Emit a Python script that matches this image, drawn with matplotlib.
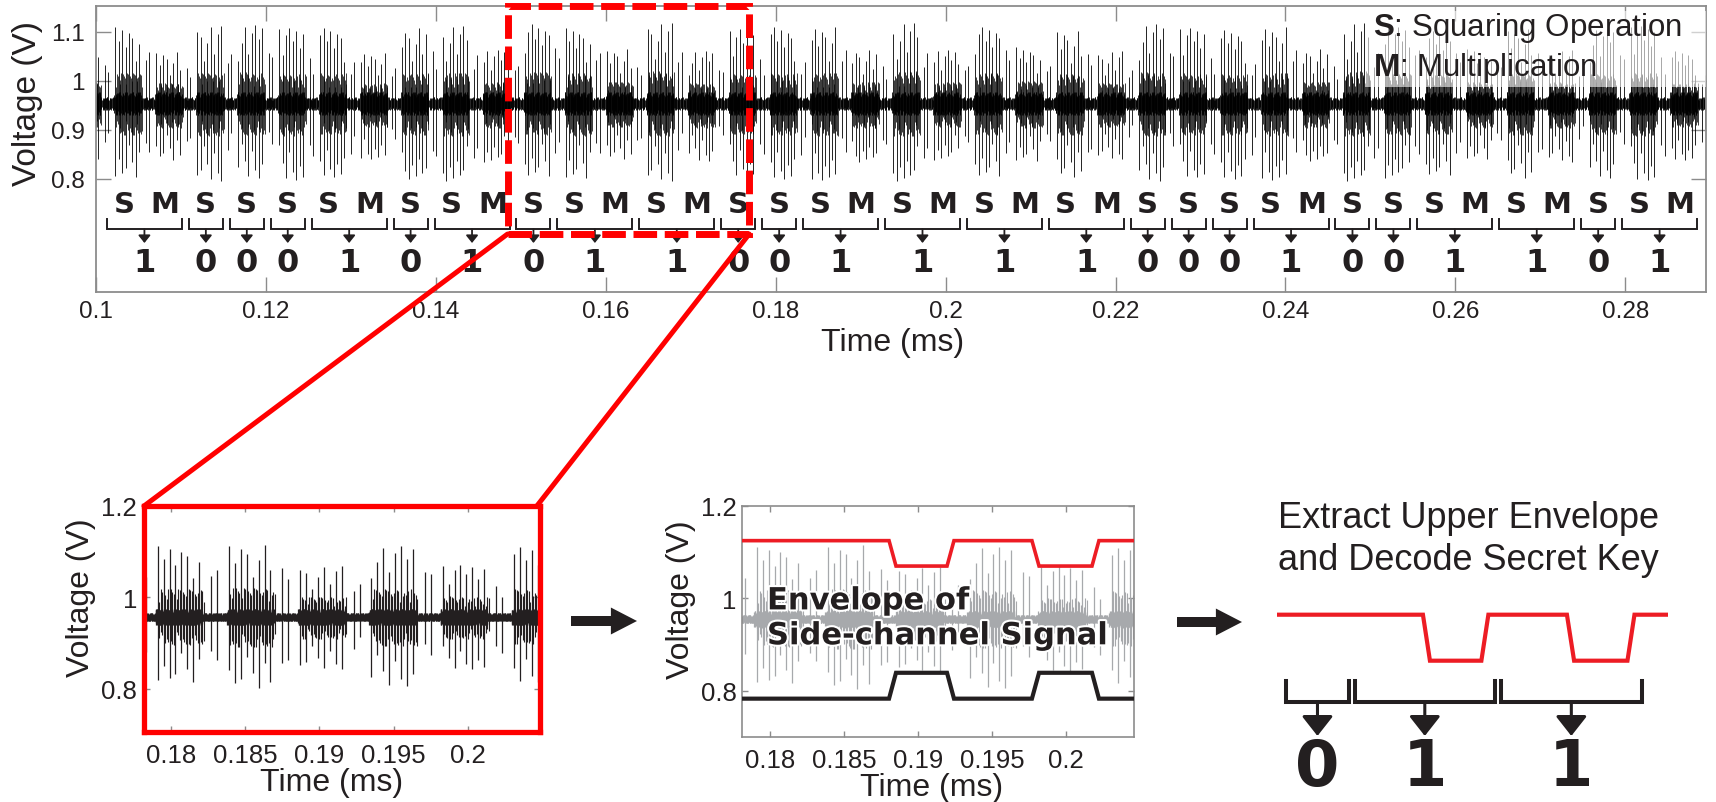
import numpy as np
import matplotlib
matplotlib.use("Agg")
import matplotlib.pyplot as plt
from matplotlib.patches import Rectangle, ConnectionPatch, FancyArrowPatch
import matplotlib.patheffects as pe

plt.rcParams['font.family'] = ['Liberation Sans', 'DejaVu Sans']
plt.rcParams['mathtext.fontset'] = 'custom'
plt.rcParams['mathtext.rm'] = 'Liberation Sans'
plt.rcParams['mathtext.bf'] = 'Liberation Sans:bold'

# ------------------------------------------------------------------ data
key_bits = [1, 0, 0, 0, 1, 0, 1, 0, 1, 1, 0, 0, 1, 1, 1, 1, 0, 0, 0, 1, 0, 0, 1, 1, 0, 1]
op_unit = 0.00482          # ms per S or M operation (top trace)
trace_start = 0.10088      # ms, start of first labelled operation
# per-operation peak / trough voltages (lead op + 39 labelled ops + trailing op)
top_peaks = [1.065, 1.110, 1.060, 1.112, 1.113, 1.108, 1.108, 1.058, 1.110, 1.112,
             1.062, 1.115, 1.108, 1.066, 1.118, 1.060, 1.105, 1.110, 1.112, 1.065,
             1.118, 1.062, 1.110, 1.068, 1.105, 1.060, 1.115, 1.108, 1.103, 1.112,
             1.066, 1.118, 1.110, 1.102, 1.064, 1.108, 1.062, 1.106, 1.112, 1.060, 1.110]
top_troughs = [0.838, 0.800, 0.836, 0.796, 0.802, 0.798, 0.804, 0.840, 0.800, 0.795,
               0.834, 0.802, 0.798, 0.838, 0.796, 0.836, 0.804, 0.800, 0.797, 0.835,
               0.795, 0.838, 0.802, 0.834, 0.800, 0.840, 0.796, 0.803, 0.800, 0.798,
               0.836, 0.795, 0.801, 0.804, 0.837, 0.799, 0.835, 0.802, 0.797, 0.838, 0.800]
top_xticks = [0.10, 0.12, 0.14, 0.16, 0.18, 0.20, 0.22, 0.24, 0.26, 0.28]
top_xticklabels = ['0.1', '0.12', '0.14', '0.16', '0.18', '0.2', '0.22', '0.24', '0.26', '0.28']
top_yticks = [0.8, 0.9, 1.0, 1.1]
top_yticklabels = ['0.8', '0.9', '1', '1.1']

zoom_ops = ['S', 'S', 'S', 'M', 'S', 'M', 'S']
zoom_start = 0.1739
zoom_unit = 0.0048
zoom_peaks = [1.110, 1.112, 1.118, 1.069, 1.112, 1.071, 1.110]
zoom_troughs = [0.810, 0.813, 0.800, 0.843, 0.806, 0.843, 0.815]
zoom_xticks = [0.18, 0.185, 0.19, 0.195, 0.20]
zoom_xticklabels = ['0.18', '0.185', '0.19', '0.195', '0.2']
zoom_yticks = [0.8, 1.0, 1.2]
zoom_yticklabels = ['0.8', '1', '1.2']

env_t = [0.1781, 0.18804, 0.18851, 0.19196, 0.19243, 0.19770, 0.19818, 0.20176, 0.20223, 0.2046]
env_upper = [1.125, 1.125, 1.070, 1.070, 1.125, 1.125, 1.070, 1.070, 1.125, 1.125]
env_lower = [0.783, 0.783, 0.839, 0.839, 0.783, 0.783, 0.839, 0.839, 0.783, 0.783]

decoded_bits = [0, 1, 1]
decoded_edges = [0.17865, 0.18328, 0.19305, 0.20294]

# relative spike heights inside one burst
spike_pattern = [0.64, 0.90, 1.0, 0.82, 0.96, 0.74, 0.92, 0.86, 0.55, 0.78, 0.98]

# ------------------------------------------------------------------ helpers
INK = '#231f20'
RED = '#ff0000'
ENV_RED = '#ed1c24'
SPINE = '#8c8c8c'
W, H = 1716, 803


def rect(l, t, r, b):
    return [l / W, 1 - b / H, (r - l) / W, (b - t) / H]


def fp(x, y):
    return (x / W, 1 - y / H)


def draw_trace(ax, ops, start, unit, peaks, troughs, base, offset, color, lw,
               hw_in, hw_out, band_step, spk_dt=0.0004, n_spk=8):
    tall_t, tall_lo, tall_hi = [], [], []
    mid_t, mid_lo, mid_hi = [], [], []
    bursts = []
    npat = len(spike_pattern)
    for k, op in enumerate(ops):
        t0 = start + k * unit + offset
        up = peaks[k] - base
        dn = base - troughs[k]
        for i in range(n_spk):
            x = t0 + i * spk_dt
            tall_t.append(x)
            tall_hi.append(base + up * spike_pattern[(i + 2 * k) % npat])
            tall_lo.append(base - dn * spike_pattern[(i + k + 3) % npat])
            for j in (1, 2, 3):
                mid_t.append(x + j * spk_dt / 4)
                mid_hi.append(base + 0.40 * up * spike_pattern[(i + 2 * j + k + 5) % npat])
                mid_lo.append(base - 0.42 * dn * spike_pattern[(i + 3 * j + k + 1) % npat])
        last = t0 + (n_spk - 1) * spk_dt
        for i in (2, 3):
            x = last + i * spk_dt
            tall_t.append(x)
            tall_hi.append(base + 0.7 * up * spike_pattern[(i + k) % npat])
            tall_lo.append(base - 0.7 * dn * spike_pattern[(i + k + 2) % npat])
        bursts.append((t0 - spk_dt * 0.4, last + spk_dt * 0.6))
    x0, x1 = ax.get_xlim()
    tg = np.arange(x0, x1, band_step)
    inb = np.zeros_like(tg, dtype=bool)
    for a, b in bursts:
        inb |= (tg >= a) & (tg <= b)
    hw = np.where(inb, hw_in, hw_out)
    idx = np.arange(len(tg))
    pat = np.array(spike_pattern)
    band_hi = 0.953 * 0 + base + hw * pat[(idx * 3) % npat]
    band_lo = base - hw * pat[(idx * 5 + 2) % npat]
    ax.vlines(tg, band_lo, band_hi, color=color, lw=lw, zorder=2)
    ax.vlines(mid_t, mid_lo, mid_hi, color=color, lw=lw * 0.9, zorder=2)
    ax.vlines(tall_t, tall_lo, tall_hi, color=color, lw=lw, zorder=2)


fig = plt.figure(figsize=(W / 100, H / 100), dpi=100)

# ------------------------------------------------------------------ top panel
ax = fig.add_axes(rect(96, 7, 1706, 293))
ax.set_xlim(0.1, 0.2895)
ax.set_ylim(0.5688, 1.1524)

top_ops, groups = [], []
u = 0
for b in key_bits:
    n = 2 if b else 1
    groups.append((u, n, b))
    top_ops += ['S', 'M'] if b else ['S']
    u += n
sig_ops = ['M'] + top_ops + ['S']
draw_trace(ax, sig_ops, trace_start - op_unit, op_unit, top_peaks, top_troughs,
           0.953, 0.0014, 'black', 0.6, 0.024, 0.013, 0.00007)

ax.set_xticks(top_xticks, labels=top_xticklabels)
ax.set_yticks(top_yticks, labels=top_yticklabels)
ax.tick_params(direction='in', length=11, width=1, color=SPINE, top=True, right=True,
               labelsize=17.5, labelcolor=INK)
ax.tick_params(axis='x', pad=6)
ax.tick_params(axis='y', pad=8)
for s in ax.spines.values():
    s.set_color(SPINE)
    s.set_linewidth(1.3)

half_gap = 0.00041
for (u0, n, b) in groups:
    a = trace_start + u0 * op_unit + half_gap
    e = trace_start + (u0 + n) * op_unit - half_gap
    ax.plot([a, a, e, e], [0.7178, 0.6973, 0.6973, 0.7178], color=INK, lw=1.4,
            solid_joinstyle='miter', zorder=3)
    for j, lab in enumerate(['S', 'M'][:n]):
        cx = trace_start + (u0 + j + 0.5) * op_unit
        ax.text(cx, 0.748, lab, ha='center', va='center', fontsize=21,
                fontfamily='DejaVu Sans', fontweight='bold', color=INK, zorder=3)
    mid = (a + e) / 2
    ax.annotate('', xy=(mid, 0.6688), xytext=(mid, 0.6973),
                arrowprops=dict(arrowstyle='-|>,head_length=0.45,head_width=0.36',
                                mutation_scale=10, lw=1.3, color=INK,
                                shrinkA=0, shrinkB=0), zorder=3)
    ax.text(mid, 0.629, str(b), ha='center', va='center', fontsize=23,
            fontfamily='DejaVu Sans', fontweight='bold', color=INK, zorder=3)

ax.add_patch(Rectangle((0.788, 0.717), 0.212, 0.266, transform=ax.transAxes,
                       facecolor='white', alpha=0.6, edgecolor='none', zorder=3))
ax.text(0.7932, 0.9266, r'$\mathbf{S}$: Squaring Operation', transform=ax.transAxes,
        ha='left', va='center', fontsize=22.5, color=INK, zorder=4)
ax.text(0.7932, 0.7867, r'$\mathbf{M}$: Multiplication', transform=ax.transAxes,
        ha='left', va='center', fontsize=22.5, color=INK, zorder=4)

box_t0, box_t1, box_v0, box_v1 = 0.14844, 0.17688, 0.6871, 1.1514
ax.add_patch(Rectangle((box_t0, box_v0), box_t1 - box_t0, box_v1 - box_v0, fill=False,
                       edgecolor=RED, lw=5, ls=(0, (3.4, 1.1)), clip_on=False, zorder=10))

fig.text(*fp(27.5, 104), 'Voltage (V)', rotation=90, ha='center', va='center',
         fontsize=24, color=INK)
fig.text(*fp(893, 343), 'Time (ms)', ha='center', va='center', fontsize=23, color=INK)

# ------------------------------------------------------------------ bottom-left zoom
axL = fig.add_axes(rect(144, 507, 540, 733))
axL.set_xlim(0.17818, 0.20486)
axL.set_ylim(0.706, 1.2)
draw_trace(axL, zoom_ops, zoom_start, zoom_unit, zoom_peaks, zoom_troughs,
           0.957, 0.0004, INK, 0.9, 0.018, 0.009, 0.00003)
axL.set_xticks(zoom_xticks, labels=zoom_xticklabels)
axL.set_yticks(zoom_yticks, labels=zoom_yticklabels)
axL.tick_params(direction='in', length=4, width=1, color=SPINE, top=True, right=True,
                labelsize=18.5, labelcolor=INK)
axL.tick_params(axis='x', pad=8)
axL.tick_params(axis='y', pad=5)
for s in axL.spines.values():
    s.set_color(RED)
    s.set_linewidth(3.8)
    s.set_zorder(5)
fig.text(*fp(81, 598), 'Voltage (V)', rotation=90, ha='center', va='center',
         fontsize=23, color=INK)
fig.text(*fp(332, 783), 'Time (ms)', ha='center', va='center', fontsize=23, color=INK)

# ------------------------------------------------------------------ middle envelope panel
axM = fig.add_axes(rect(742, 507, 1134, 738))
axM.set_xlim(0.1781, 0.2046)
axM.set_ylim(0.70, 1.2)
draw_trace(axM, zoom_ops, zoom_start, zoom_unit, zoom_peaks, zoom_troughs,
           0.955, 0.0004, '#a7a9ac', 0.9, 0.018, 0.009, 0.00003)
axM.plot(env_t, env_upper, color=ENV_RED, lw=2.6, zorder=4, solid_joinstyle='miter')
axM.plot(env_t, env_lower, color=INK, lw=3.0, zorder=4, solid_joinstyle='miter')
axM.set_xticks(zoom_xticks, labels=zoom_xticklabels)
axM.set_yticks(zoom_yticks, labels=zoom_yticklabels)
axM.tick_params(direction='in', length=4, width=1, color=SPINE, top=True, right=True,
                labelsize=18.5, labelcolor=INK)
axM.tick_params(axis='x', pad=8)
axM.tick_params(axis='y', pad=4)
for s in axM.spines.values():
    s.set_color(SPINE)
    s.set_linewidth(1.2)
for txt, v in (('Envelope of', 0.9946), ('Side-channel Signal', 0.919)):
    axM.text(0.17979, v, txt, ha='left', va='center', fontsize=22, fontfamily='DejaVu Sans',
             fontweight='bold', color=INK, zorder=5,
             path_effects=[pe.withStroke(linewidth=3, foreground='white')])
fig.text(*fp(681, 600), 'Voltage (V)', rotation=90, ha='center', va='center',
         fontsize=23, color=INK)
fig.text(*fp(932, 788), 'Time (ms)', ha='center', va='center', fontsize=23, color=INK)

# ------------------------------------------------------------------ right decode panel
axR = fig.add_axes(rect(1277, 580, 1668, 800))
axR.set_xlim(0.17825, 0.20448)
axR.set_ylim(0.9046, 1.1677)
axR.axis('off')
axR.plot(env_t, env_upper, color=ENV_RED, lw=3.0, solid_joinstyle='miter')
hg = 0.0002
for i, b in enumerate(decoded_bits):
    a = decoded_edges[i] + hg
    e = decoded_edges[i + 1] - hg
    axR.plot([a, a, e, e], [1.0457, 1.021, 1.021, 1.0457], color=INK, lw=2.9,
             solid_joinstyle='miter', clip_on=False)
    mid = (decoded_edges[i] + decoded_edges[i + 1]) / 2
    axR.annotate('', xy=(mid, 0.980), xytext=(mid, 1.021),
                 arrowprops=dict(arrowstyle='-|>,head_length=0.61,head_width=0.48',
                                 mutation_scale=20, lw=2.2, color=INK,
                                 shrinkA=0, shrinkB=0))
    axR.text(mid, 0.943, str(b), ha='center', va='center', fontsize=46,
             fontfamily='DejaVu Sans', fontweight='bold', color=INK, clip_on=False)

fig.text(*fp(1278, 518), 'Extract Upper Envelope', ha='left', va='center',
         fontsize=26, color=INK)
fig.text(*fp(1278, 560), 'and Decode Secret Key', ha='left', va='center',
         fontsize=26, color=INK)

# ------------------------------------------------------------------ connectors & arrows
for xyA, xyB in (((box_t0, box_v0), (0.0, 1.0)), ((box_t1, box_v0), (0.992, 1.0))):
    cp = ConnectionPatch(xyA=xyA, coordsA=ax.transData, xyB=xyB, coordsB=axL.transAxes,
                         color=RED, lw=3.6, zorder=11)
    fig.add_artist(cp)

for (xa, xb, y) in ((571, 637, 622), (1177, 1242, 623)):
    fig.add_artist(FancyArrowPatch(fp(xa, y), fp(xb, y), transform=fig.transFigure,
                                   arrowstyle='simple,head_length=0.94,head_width=0.97,tail_width=0.36',
                                   mutation_scale=20, color=INK, lw=0,
                                   shrinkA=0, shrinkB=0))

fig.savefig('out.png', dpi=100)
